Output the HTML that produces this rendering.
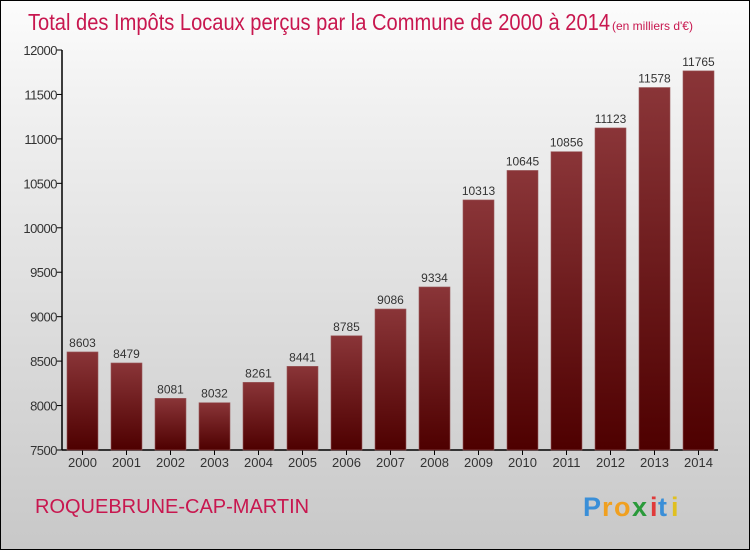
<!DOCTYPE html>
<html><head><meta charset="utf-8"><style>
body{margin:0;width:750px;height:550px;overflow:hidden;font-family:"Liberation Sans",sans-serif}
#wrap{position:absolute;left:0;top:0;width:748px;height:548px;border:1px solid #000;background:linear-gradient(#fcfcfc,#f0f0f0 20%,#c8c8c8)}
</style></head><body>
<div id="wrap">
<svg width="750" height="550" style="position:absolute;left:-1px;top:-1px">
<defs><linearGradient id="bg" x1="0" y1="0" x2="0" y2="1"><stop offset="0" stop-color="#8a3538"/><stop offset="1" stop-color="#4e0000"/></linearGradient></defs>
<text x="28" y="30" font-size="23" fill="#c8174f" textLength="582" lengthAdjust="spacingAndGlyphs">Total des Impôts Locaux perçus par la Commune de 2000 à 2014</text>
<text x="612" y="30" font-size="12" fill="#c8174f">(en milliers d'€)</text>
<g id="axes"></g><g id="bars"></g>
<text x="35" y="513" font-size="20" fill="#c8174f">ROQUEBRUNE-CAP-MARTIN</text>
<g font-size="27" font-weight="bold">
<text x="583" y="516" fill="#3a8fd8">P</text><text x="602" y="516" fill="#f0a020">r</text><text x="614" y="516" fill="#f0a020">o</text><text x="632" y="516" fill="#2a9a3a">x</text><text x="650" y="516" fill="#e03a3a">i</text><text x="658" y="516" fill="#3a8fd8">t</text><text x="671" y="516" fill="#e0c020">i</text>
</g>
</svg></div>
<script>
const years=["2000","2001","2002","2003","2004","2005","2006","2007","2008","2009","2010","2011","2012","2013","2014"];
const values=[8603,8479,8081,8032,8261,8441,8785,9086,9334,10313,10645,10856,11123,11578,11765];
const yTicks=[7500,8000,8500,9000,9500,10000,10500,11000,11500,12000];
const ns="http://www.w3.org/2000/svg";
const y0=450,y1=50,vmin=7500,vmax=12000,xStart=62,step=44,bw=31;
const y=v=>y0-(v-vmin)/(vmax-vmin)*(y0-y1);
const xc=i=>xStart+20.5+i*step;
function mk(t,a,p){const e=document.createElementNS(ns,t);for(const k in a)e.setAttribute(k,a[k]);p.appendChild(e);return e;}
const ax=document.getElementById('axes'),bs=document.getElementById('bars');
let l=mk('line',{x1:xStart,y1:y1,x2:xStart,y2:y0,stroke:'#000','stroke-width':1.5},ax);


l=mk('line',{x1:xStart,y1:y0,x2:718,y2:y0,stroke:'#000','stroke-width':1.5},ax);


yTicks.forEach(v=>{
 const t=mk('line',{x1:xStart-5,y1:y(v),x2:xStart,y2:y(v),stroke:'#000'},ax);
 
 
 const tx=mk('text',{x:xStart-5,y:y(v)+5,'font-size':13,fill:'#333','text-anchor':'end','letter-spacing':'-0.5'},ax);
 tx.textContent=v;
 
 
});
years.forEach((yr,i)=>{
 const v=values[i];
 const r=mk('rect',{x:xc(i)-bw/2,y:y(v),width:bw,height:y0-y(v),fill:'url(#bg)',stroke:'#9a5a5c','stroke-width':0.6},bs);
 
 
 const lb=mk('text',{x:xc(i),y:y(v)-5,'font-size':12,fill:'#333','text-anchor':'middle'},bs);
 lb.textContent=v;
 
 
 const t=mk('line',{x1:xc(i),y1:y0,x2:xc(i),y2:y0+5,stroke:'#000'},ax);
 
 
 const xl=mk('text',{x:xc(i),y:y0+17,'font-size':13,fill:'#333','text-anchor':'middle'},ax);
 xl.textContent=yr;
 
 
});
</script>
</body></html>
